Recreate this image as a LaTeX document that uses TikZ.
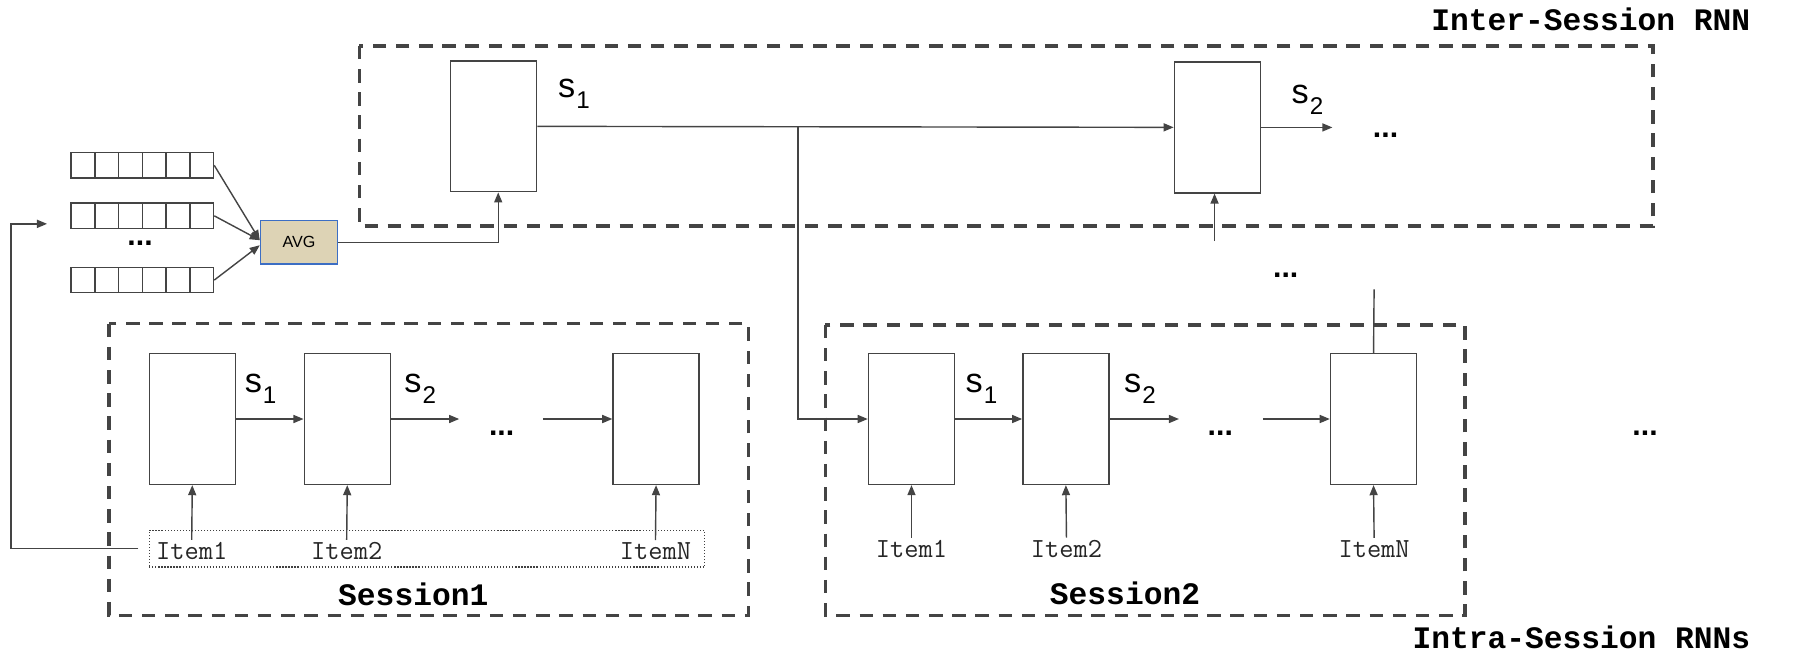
\documentclass[tikz,border=0pt]{standalone}
\usepackage{fontspec}
\setmainfont{Liberation Sans}
\newfontfamily\titlemono{Liberation Mono}
\usetikzlibrary{arrows.meta,calc,positioning,fit}

\definecolor{linegray}{HTML}{444444}
\definecolor{avgfill}{HTML}{DDD3B5}
\definecolor{avgblue}{HTML}{3C6EC4}

\newcommand{\stlabel}[1]{s\kern0.5pt\raisebox{-5.5pt}{\fontsize{12}{13}\selectfont #1}}

\begin{document}
\begin{tikzpicture}[x=0.02cm,y=-0.02cm,>={Triangle[length=5pt,width=4pt]},
  cell/.style={draw=linegray,line width=0.7pt,fill=white,minimum width=1.5cm,
    minimum height=2.28cm,inner sep=0pt},
  vcell/.style={draw=linegray,line width=0.7pt,minimum width=0.413cm,
    minimum height=0.44cm,inner sep=0pt},
  avgbox/.style={draw=avgblue,fill=avgfill,line width=0.8pt,minimum width=1.34cm,
    minimum height=0.76cm,inner sep=0pt,font=\fontsize{8}{10}\selectfont},
  group/.style={draw=linegray,line width=1.7pt,dash pattern=on 0.234cm off 0.17cm},
  itembox/.style={draw=black!75,line width=0.6pt,dash pattern=on 0.6pt off 0.9pt,inner sep=0pt},
  link/.style={draw=linegray,line width=0.7pt},
  lbl/.style={font=\fontsize{17}{20}\selectfont,inner sep=0pt},
  more/.style={font=\fontsize{15}{18}\selectfont\bfseries,inner sep=0pt},
  item/.style={font=\ttfamily\fontsize{13.7}{15}\selectfont,text=black!85,inner sep=1pt},
  title/.style={font=\titlemono\bfseries\fontsize{15.5}{18}\selectfont,inner sep=0pt}]

  \useasboundingbox (0,0) rectangle (1568,568);

  % dashed groups
  \draw[group] (313,40) rectangle (1440,197);
  \draw[group] (95,282) rectangle (652,536);
  \draw[group] (719,283) rectangle (1276,536);
  \node[title,anchor=east] (intertitle) at (1525,17) {Inter-Session RNN};
  \node[title,anchor=east] (intratitle) at (1525,555) {Intra-Session RNNs};

  % inter-session rnn
  \node[cell] (h1) at (430,110) {};
  \node[cell] (h2) at (1060.5,111) {};
  \node[lbl] (hs1) at (500,82) {\stlabel{1}};
  \node[lbl] (hs2) at (1139,87) {\stlabel{2}};
  \node[more] (hdots) at (1207,118) {...};
  \node[more] (updots) at (1120,240) {...};
  \coordinate (br) at (695,111);
  \coordinate (h2in) at (1058,210);
  \coordinate (b3out) at (1197,252);
  \draw[link,->] (h1) -- (h2);
  \draw[link,->] (h2.east) -- ($(h2.east -| hdots.west)+(-35,0)$);

  % session vectors
  \foreach \r/\yy in {1/144,2/188,3/244}
    \foreach \c in {1,...,6}
      \node[vcell] (v\r-\c) at ({62+20.67*(\c-0.5)},\yy) {};
  \node[more] (vdots) at (122,212) {...};
  \node[avgbox] (avg) at (260.5,211) {AVG};
  \draw[link,->] (v1-6.east) -- ([yshift=1pt]avg.west);
  \draw[link,->] (v2-6.east) -- ([yshift=1pt]avg.west);
  \draw[link,->] (v3-6.east) -- ([yshift=-1.5pt]avg.west);
  \draw[link,->] (avg.east) -| ([xshift=0.08cm]h1.south);

  % session 1
  \node[cell] (a1) at (167.5,365) {};
  \node[cell] (a2) at (302.5,365) {};
  \node[cell] (a3) at (571.5,365) {};
  \node[lbl] (as1) at (227,339) {\stlabel{1}};
  \node[lbl] (as2) at (366,339) {\stlabel{2}};
  \node[more] (adots) at (437,377) {...};
  \coordinate (a2out) at (400,365);
  \coordinate (a3in) at (473,365);
  \draw[link,->] (a1) -- (a2);
  \draw[link,->] (a2) -- (a2out);
  \draw[link,->] (a3in) -- (a3);
  \node[item] (ai1) at (167,480) {Item1};
  \node[item] (ai2) at (302,480) {Item2};
  \node[item] (ai3) at (571,480) {ItemN};
  \node[itembox,fit={(130,462) (614,494)}] (items1) {};
  \foreach \i in {1,2,3}
    \draw[link,->] (ai\i.north) -- (a\i.south);
  \node[title] (sess1) at (360,518) {Session1};
  \coordinate (fbend) at (41,195);
  \draw[link,->] ([xshift=-0.18cm]items1.west) -- ++(-111,0) |- (fbend);

  % session 2
  \node[cell] (b1) at (794,365) {};
  \node[cell] (b2) at (928.5,365) {};
  \node[cell] (b3) at (1196.5,365) {};
  \node[lbl] (bs1) at (855,339) {\stlabel{1}};
  \node[lbl] (bs2) at (993,339) {\stlabel{2}};
  \node[more] (bdots) at (1063,377) {...};
  \coordinate (b2out) at (1027,365);
  \coordinate (b3in) at (1100,365);
  \draw[link,->] (br) |- (b1);
  \draw[link,->] (b1) -- (b2);
  \draw[link,->] (b2) -- (b2out);
  \draw[link,->] (b3in) -- (b3);
  \node[item] (bi1) at (794,478) {Item1};
  \node[item] (bi2) at (929,478) {Item2};
  \node[item] (bi3) at (1197,478) {ItemN};
  \foreach \i in {1,2,3}
    \draw[link,->] (bi\i.north) -- (b\i.south);
  \node[title] (sess2) at (980,517) {Session2};
  \node[more] (rdots) at (1433,377) {...};

  % links between levels
  \draw[link] (b3.north) -- (b3out);
  \draw[link,->] (h2in) -- (h2in |- h2.south);
\end{tikzpicture}
\end{document}
